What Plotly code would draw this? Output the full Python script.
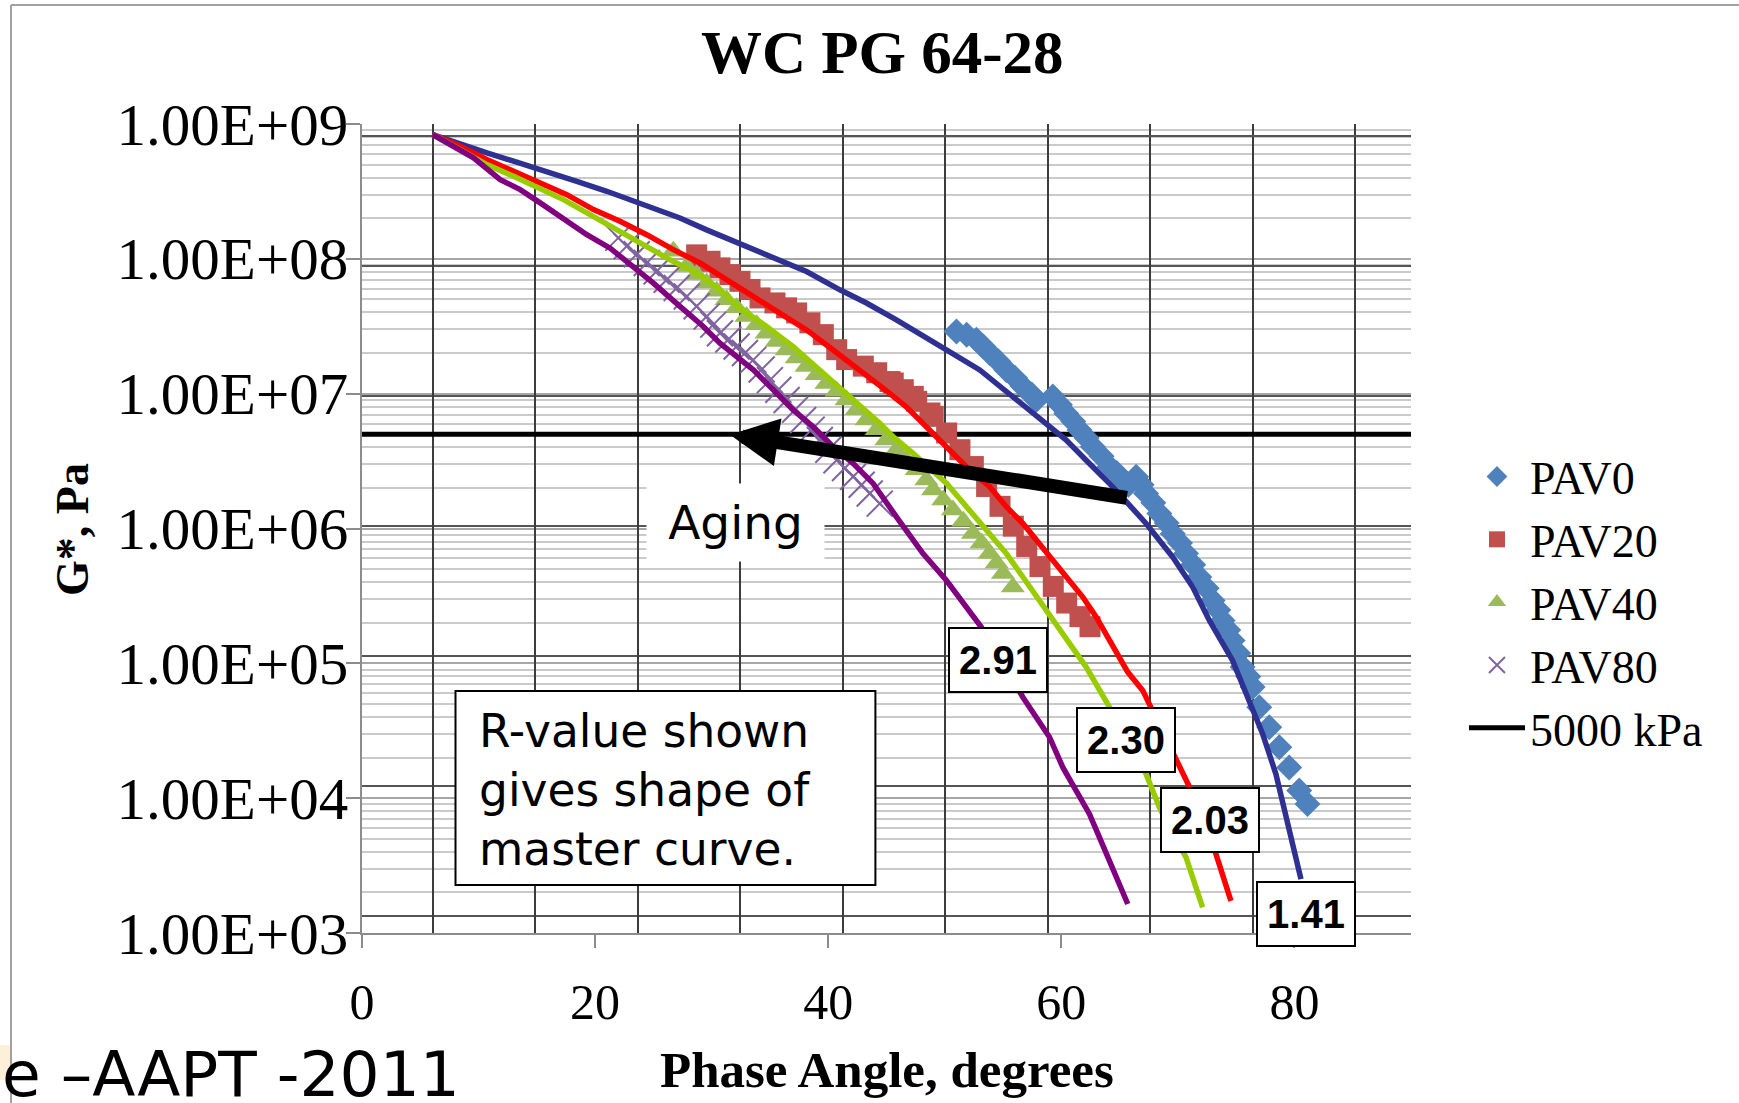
import math
import plotly.graph_objects as go

# ------------------------------------------------------------------ data
# measured points (phase angle in degrees, |G*| in Pa)
pav0_angle = [51.0, 51.88, 52.71, 53.30, 53.85, 54.59, 55.28, 56.02, 56.7, 57.46, 57.85,
              59.27, 59.88, 60.42, 61.03, 61.56, 62.17, 62.7, 63.46, 64.13, 64.75, 65.27, 65.75,
              66.42, 66.89, 67.27, 67.89, 68.41, 69.04, 69.56, 70.18, 70.7, 71.32, 71.84, 72.47,
              72.98, 73.47, 73.84, 74.32, 74.69, 75.18, 75.55, 76.04, 76.41, 76.98, 77.84, 78.7,
              79.55, 80.41, 81.12]
pav0_gstar = [2.89e7, 2.74e7, 2.51e7, 2.24e7, 2.00e7, 1.74e7, 1.50e7, 1.31e7, 1.13e7, 9.84e6, 8.97e6,
              9.51e6, 8.28e6, 7.14e6, 6.22e6, 5.37e6, 4.69e6, 4.04e6, 3.43e6, 2.87e6, 2.58e6, 2.29e6, 2.11e6,
              2.42e6, 2.11e6, 1.82e6, 1.55e6, 1.29e6, 1.10e6, 9.16e5, 7.80e5, 6.52e5, 5.38e5, 4.37e5, 3.61e5,
              2.93e5, 2.49e5, 2.08e5, 1.77e5, 1.48e5, 1.19e5, 9.38e4, 7.98e4, 6.67e4, 4.73e4, 3.36e4, 2.39e4,
              1.69e4, 1.14e4, 9.06e3]

pav20_angle = [28.71, 29.86, 30.71, 31.57, 32.43, 33.29, 34.15, 35.43, 36.43, 37.29, 38.43, 39.58,
               40.73, 41.58, 43.01, 44.16, 45.30, 45.58, 46.44, 47.30, 47.59, 48.73, 49.01, 50.16,
               51.30, 52.45, 53.59, 54.74, 55.88, 57.03, 58.17, 59.31, 60.46, 61.60, 62.46]
pav20_gstar = [1.07e8, 9.59e7, 8.57e7, 7.64e7, 6.81e7, 5.92e7, 5.13e7, 4.71e7, 4.33e7, 3.97e7, 3.35e7, 2.74e7,
               2.12e7, 1.79e7, 1.60e7, 1.43e7, 1.23e7, 1.20e7, 1.07e7, 9.55e6, 8.77e6, 7.19e6, 6.79e6, 5.11e6,
               3.84e6, 2.88e6, 2.05e6, 1.46e6, 1.04e6, 7.36e5, 5.22e5, 3.72e5, 2.80e5, 2.22e5, 1.87e5]

pav40_angle = [26.71, 27.86, 28.71, 29.57, 30.43, 31.28, 32.15, 32.99, 33.86, 34.71, 35.58, 36.43,
               37.29, 38.14, 39.01, 39.85, 40.73, 41.57, 42.44, 43.28, 44.16, 44.99, 45.87, 46.7,
               47.59, 48.42, 48.99, 49.87, 50.7, 51.59, 52.42, 53.16, 53.85, 54.45, 54.99, 55.84]
pav40_gstar = [1.14e8, 8.79e7, 7.64e7, 6.61e7, 5.74e7, 4.97e7, 4.33e7, 3.73e7, 3.25e7, 2.81e7, 2.44e7, 2.11e7,
               1.84e7, 1.59e7, 1.38e7, 1.19e7, 1.04e7, 8.97e6, 7.60e6, 6.38e6, 5.41e6, 4.53e6, 3.84e6, 3.21e6,
               2.73e6, 2.29e6, 1.93e6, 1.63e6, 1.37e6, 1.13e6, 9.18e5, 7.80e5, 6.52e5, 5.55e5, 4.63e5, 3.68e5]

pav80_angle = [21.99, 22.71, 23.57, 24.43, 25.28, 26.14, 27.0, 27.86, 28.71, 29.57, 30.14, 30.71,
               31.43, 32.14, 32.86, 33.57, 34.29, 35.0, 35.72, 36.43, 37.15, 37.85, 38.58, 39.28,
               40.01, 40.71, 41.44, 42.13, 42.87, 43.56, 44.42]
pav80_gstar = [1.43e8, 1.24e8, 1.08e8, 9.31e7, 8.09e7, 7.00e7, 6.08e7, 5.26e7, 4.45e7, 3.73e7, 3.25e7, 2.81e7,
               2.52e7, 2.24e7, 2.00e7, 1.78e7, 1.51e7, 1.26e7, 1.07e7, 8.97e6, 7.60e6, 6.38e6, 5.41e6, 4.53e6,
               3.84e6, 3.21e6, 2.81e6, 2.42e6, 2.11e6, 1.82e6, 1.53e6]

# master-curve fits
pav0_fit_angle = [6.06, 8.43, 10.72, 13.0, 15.86, 18.43, 21.0, 23.28, 25.0, 27.28, 29.57, 31.57, 33.57,
                  35.85, 38.14, 41.0, 43.28, 45.85, 47.85, 50.14, 53.0, 55.84, 58.7, 60.42, 62.13, 64.41,
                  67.27, 69.55, 71.27, 72.7, 74.69, 76.12, 77.27, 78.41, 79.13, 79.84, 80.56]
pav0_fit_gstar = [8.36e8, 7.05e8, 6.11e8, 5.30e8, 4.46e8, 3.76e8, 3.17e8, 2.67e8, 2.34e8, 2.01e8, 1.64e8,
                  1.39e8, 1.20e8, 9.84e7, 8.05e7, 5.89e7, 4.70e7, 3.53e7, 2.81e7, 2.11e7, 1.50e7, 9.51e6,
                  6.03e6, 4.53e6, 3.21e6, 2.04e6, 1.09e6, 6.15e5, 3.68e5, 2.08e5, 1.05e5, 5.31e4, 3.00e4,
                  1.51e4, 8.07e3, 4.32e3, 2.51e3]

pav20_fit_angle = [6.06, 8.43, 10.71, 13.0, 15.29, 17.57, 19.86, 22.14, 24.43, 26.71, 29.0, 31.28, 33.57,
                   35.85, 38.14, 40.42, 42.71, 44.70, 46.7, 48.42, 50.13, 51.85, 53.85, 55.28, 56.7, 58.13,
                   59.56, 60.7, 61.84, 62.99, 64.41, 65.7, 66.98, 67.8, 69.27, 70.7, 71.84, 73.27, 74.55]
pav20_fit_gstar = [8.36e8, 6.84e8, 5.45e8, 4.46e8, 3.65e8, 2.99e8, 2.32e8, 1.90e8, 1.51e8, 1.17e8, 9.31e7,
                   7.00e7, 5.26e7, 3.95e7, 2.97e7, 2.11e7, 1.50e7, 1.10e7, 8.00e6, 5.69e6, 4.04e6, 2.87e6,
                   2.04e6, 1.45e6, 1.09e6, 7.73e5, 5.50e5, 4.13e5, 3.10e5, 2.21e5, 1.32e5, 8.61e4, 6.30e4,
                   4.47e4, 2.39e4, 1.35e4, 8.55e3, 3.85e3, 1.73e3]

pav40_fit_angle = [6.06, 8.43, 10.71, 13.0, 15.0, 17.28, 19.57, 21.86, 24.14, 26.43, 28.71, 30.71, 32.42,
                   34.71, 36.99, 39.28, 41.28, 43.57, 44.42, 45.56, 47.28, 50.16, 51.85, 53.85, 55.28, 56.70,
                   58.13, 59.27, 60.7, 62.13, 64.13, 67.27, 68.41, 69.55, 70.7, 71.41, 72.12]
pav40_fit_gstar = [8.36e8, 6.46e8, 5.00e8, 4.09e8, 3.36e8, 2.75e8, 2.13e8, 1.64e8, 1.27e8, 9.84e7, 7.85e7,
                   5.90e7, 4.32e7, 3.15e7, 2.23e7, 1.50e7, 1.07e7, 7.14e6, 6.03e6, 4.80e6, 3.61e6, 2.16e6,
                   1.45e6, 9.18e5, 6.52e5, 4.37e5, 2.93e5, 2.08e5, 1.45e5, 9.38e4, 4.73e4, 1.51e4, 8.55e3,
                   5.42e3, 3.64e3, 2.44e3, 1.55e3]

pav80_fit_angle = [6.06, 7.86, 9.57, 11.86, 13.57, 15.29, 17.0, 19.29, 21.29, 23.28, 25.0, 27.28, 29.28,
                   30.71, 32.42, 33.57, 35.28, 36.99, 38.71, 40.42, 42.13, 43.85, 45.85, 48.13, 50.13, 51.85,
                   53.13, 56.7, 57.85, 58.99, 60.13, 61.56, 62.41, 63.27, 64.41, 65.7]
pav80_fit_gstar = [8.36e8, 6.84e8, 5.61e8, 3.87e8, 3.26e8, 2.60e8, 2.07e8, 1.51e8, 1.20e8, 8.79e7, 6.61e7,
                   4.44e7, 3.15e7, 2.37e7, 1.78e7, 1.50e7, 1.07e7, 7.57e6, 5.69e6, 4.04e6, 3.04e6, 2.16e6,
                   1.22e6, 6.52e5, 4.13e5, 2.62e5, 1.86e5, 5.61e4, 3.98e4, 2.83e4, 1.69e4, 1.01e4, 7.64e3,
                   5.12e3, 3.06e3, 1.64e3]

criterion_angle = [0, 90]
criterion_gstar = [5e6, 5e6]

y_tick_vals = [1e3, 1e4, 1e5, 1e6, 1e7, 1e8, 1e9]
y_tick_text = ["1.00E+03", "1.00E+04", "1.00E+05", "1.00E+06", "1.00E+07", "1.00E+08", "1.00E+09"]
x_tick_vals = [0, 20, 40, 60, 80]

r_values = ["2.91", "2.30", "2.03", "1.41"]
r_label_angle = [54.54, 65.52, 72.73, 80.99]
r_label_gstar = [1.06e5, 2.70e4, 6.93e3, 1.39e3]

# ------------------------------------------------------------------ layout helpers
W, H = 1739, 1103
ML, MR, MT, MB = 362, 328, 124, 170
PW, PH = W - ML - MR, H - MT - MB


def px(xpix):
    return (xpix - ML) / PW


def py(ypix):
    return (H - MB - ypix) / PH


SERIF = "Liberation Serif, Times New Roman, serif"
SANS = "DejaVu Sans, Verdana, sans-serif"
NARROW = "Liberation Sans Narrow, Arial Narrow, Liberation Sans, Arial, sans-serif"

fig = go.Figure()

fig.add_trace(go.Scatter(x=criterion_angle, y=criterion_gstar, mode="lines", name="5000 kPa",
                         line=dict(color="black", width=5), legendrank=5))

fig.add_trace(go.Scatter(x=pav0_angle, y=pav0_gstar, mode="markers", name="PAV0", legendrank=1,
                         marker=dict(symbol="diamond", size=20, color="#4F81BD", line=dict(width=0))))
fig.add_trace(go.Scatter(x=pav20_angle, y=pav20_gstar, mode="markers", name="PAV20", legendrank=2,
                         marker=dict(symbol="square", size=21, color="#C0504D", line=dict(width=0))))
fig.add_trace(go.Scatter(x=pav40_angle, y=pav40_gstar, mode="markers", name="PAV40", legendrank=3,
                         marker=dict(symbol="triangle-up", size=21, color="#9BBB59", line=dict(width=0))))
fig.add_trace(go.Scatter(x=pav80_angle, y=pav80_gstar, mode="markers", name="PAV80", legendrank=4,
                         marker=dict(symbol="x-thin", size=26, color="#8064A2",
                                     line=dict(width=2, color="#8064A2"))))

for ang, g, col in [(pav0_fit_angle, pav0_fit_gstar, "#2E3192"),
                    (pav20_fit_angle, pav20_fit_gstar, "#FF0000"),
                    (pav40_fit_angle, pav40_fit_gstar, "#99CC00"),
                    (pav80_fit_angle, pav80_fit_gstar, "#800080")]:
    fig.add_trace(go.Scatter(x=ang, y=g, mode="lines", showlegend=False, hoverinfo="skip",
                             line=dict(color=col, width=5.5)))

# helper traces so the offset inner grid axes are drawn
fig.add_trace(go.Scatter(x=[None], y=[None], xaxis="x2", yaxis="y", showlegend=False, hoverinfo="skip"))
fig.add_trace(go.Scatter(x=[None], y=[None], xaxis="x", yaxis="y2", showlegend=False, hoverinfo="skip"))

AXC = "#8c8c8c"
fig.update_layout(
    width=W, height=H,
    margin=dict(l=ML, r=MR, t=MT, b=MB),
    paper_bgcolor="white", plot_bgcolor="white",
    showlegend=True,
    legend=dict(x=1.0505, xanchor="left", y=0.409, yanchor="middle",
                font=dict(family=SERIF, size=46, color="black"),
                bgcolor="rgba(0,0,0,0)", itemwidth=56),
    xaxis=dict(range=[0, 90], tickvals=x_tick_vals, ticks="outside", ticklen=13, tickwidth=2,
               tickcolor=AXC, showline=True, linecolor=AXC, linewidth=2, showgrid=False,
               zeroline=False, ticklabelstandoff=11,
               tickfont=dict(family=SERIF, size=50, color="black")),
    yaxis=dict(type="log", range=[3, 9], tickvals=y_tick_vals, ticktext=y_tick_text,
               ticks="outside", ticklen=14, tickwidth=2, tickcolor=AXC,
               showline=True, linecolor=AXC, linewidth=2,
               showgrid=True, gridcolor="#a6a6a6", gridwidth=2,
               minor=dict(dtick="D1", showgrid=True, gridcolor="#cacaca", gridwidth=1.5, ticks=""),
               zeroline=False, ticklabelstandoff=-14,
               tickfont=dict(family=SERIF, size=59, color="black")),
    xaxis2=dict(overlaying="x", anchor="y", range=[-0.6891, 9.545], tickmode="linear", tick0=0, dtick=1,
                showgrid=True, gridcolor="#3c3c3c", gridwidth=1.5, showticklabels=False, ticks="",
                showline=False, zeroline=True, zerolinecolor="#3c3c3c", zerolinewidth=1.5),
    yaxis2=dict(overlaying="y", anchor="x", range=[6.1308, -0.0923], tickmode="linear", tick0=0, dtick=1,
                showgrid=True, gridcolor="#555555", gridwidth=1.5, showticklabels=False, ticks="",
                showline=False, zeroline=True, zerolinecolor="#555555", zerolinewidth=1.5, side="right"),
)

shapes = [
    # slide frame
    dict(type="line", xref="paper", yref="paper", x0=px(11), x1=px(W), y0=py(5), y1=py(5),
         line=dict(color="#a0a0a0", width=2)),
    dict(type="line", xref="paper", yref="paper", x0=px(11), x1=px(11), y0=py(5), y1=py(H),
         line=dict(color="#a0a0a0", width=2)),
    dict(type="rect", xref="paper", yref="paper", x0=px(0), x1=px(10), y0=py(1080), y1=py(1045),
         line=dict(width=0), fillcolor="#FDF0D8"),
    # R-value note box
    dict(type="rect", xref="paper", yref="paper", x0=px(455.5), x1=px(875.4), y0=py(885), y1=py(691),
         line=dict(color="black", width=2), fillcolor="white"),
]

annotations = [
    dict(text="<b>WC PG 64-28</b>", xref="paper", yref="paper", x=px(882), y=py(53),
         xanchor="center", yanchor="middle",
         showarrow=False, font=dict(family=SERIF, size=61, color="black")),
    dict(text="<b>Phase Angle, degrees</b>", xref="paper", yref="paper", x=px(887), y=py(1070),
         xanchor="center", yanchor="middle",
         showarrow=False, font=dict(family=SERIF, size=51, color="black")),
    dict(text="<b>G*, Pa</b>", xref="paper", yref="paper", x=px(72), y=py(530), textangle=-90,
         xanchor="center", yanchor="middle",
         showarrow=False, font=dict(family=SERIF, size=46, color="black")),
    dict(text="e \u2013AAPT -2011", xref="paper", yref="paper", x=px(462), y=py(1074),
         xanchor="right", yanchor="middle", showarrow=False,
         font=dict(family=SANS, size=63, color="black")),
    dict(text="Aging", xref="x", yref="y", x=32.07, y=6.046, width=175, height=75,
         xanchor="center", yanchor="middle",
         bgcolor="white", showarrow=False, font=dict(family=SANS, size=47, color="black")),
    dict(text="", xref="x", yref="y", x=31.57, y=6.696, axref="x", ayref="y", ax=65.74, ay=6.226,
         showarrow=True, arrowhead=2, arrowsize=0.69, arrowwidth=14, arrowcolor="black"),
    dict(text="R-value shown<br>gives shape of<br>master curve.", xref="paper", yref="paper",
         x=px(477), y=py(790), xanchor="left", yanchor="middle", align="left",
         showarrow=False, font=dict(family=SANS, size=45.5, color="black")),
]

for txt, ang, g in zip(r_values, r_label_angle, r_label_gstar):
    annotations.append(dict(text="<b>%s</b>" % txt, xref="x", yref="y", x=ang, y=math.log10(g),
                            xanchor="center", yanchor="middle",
                            width=96, height=62, bgcolor="white", bordercolor="black",
                            borderwidth=2, borderpad=0, showarrow=False,
                            font=dict(family=NARROW, size=40, color="black")))

fig.update_layout(shapes=shapes, annotations=annotations)

fig.write_html("out.html", config={"displayModeBar": False})
